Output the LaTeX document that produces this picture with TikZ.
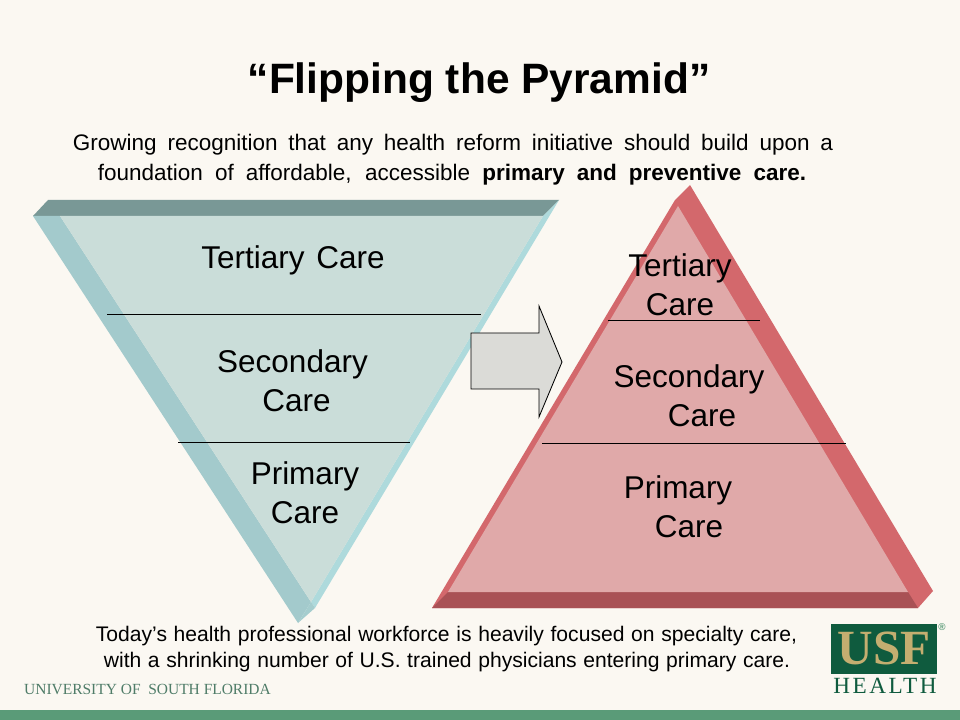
\documentclass[tikz,border=0pt]{standalone}
\usepackage{xcolor}
\usepackage{fontspec}
\setmainfont{Liberation Sans}
\newfontfamily\logoserif{Liberation Serif}
\newfontfamily\healthserif[LetterSpace=11]{Liberation Serif}
\definecolor{paper}{HTML}{FBF8F2}
\definecolor{tealface}{HTML}{CADDD9}
\definecolor{tealtop}{HTML}{799896}
\definecolor{tealleft}{HTML}{A3CACC}
\definecolor{tealright}{HTML}{AEDADC}
\definecolor{redface}{HTML}{E0A9A9}
\definecolor{redright}{HTML}{D3686C}
\definecolor{redbase}{HTML}{A95155}
\definecolor{arrowgrey}{HTML}{DBDBD7}
\definecolor{usfgreen}{HTML}{0F5B3E}
\definecolor{usfgold}{HTML}{C4AE70}
\definecolor{usfbar}{HTML}{5A9B78}
\definecolor{usftext}{HTML}{4F7C68}
\tikzset{
  layerlabel/.style={align=center,inner sep=0pt,font=\fontsize{22.4}{27.7}\selectfont},
  notetext/.style={inner sep=0pt,font=\fontsize{16}{20.6}\selectfont},
  footnotetext/.style={inner sep=0pt,font=\fontsize{15}{18.5}\selectfont},
  divider/.style={draw=black,line width=0.5pt}
}
\begin{document}
\begin{tikzpicture}[x=0.025cm,y=-0.025cm]
    \useasboundingbox (0,0) rectangle (960,720);
    \fill[paper] (0,0) rectangle (960,720);
    \fill[usfbar] (0,710) rectangle (960,720);

    % inverted pyramid
    \fill[tealtop] (48,200) -- (559,200) -- (543,216) -- (33,216) -- cycle;
    \fill[tealleft] (33,216) -- (60,216) -- (311,602) -- (298,623) -- cycle;
    \fill[tealright] (543,216) -- (559,200) -- (315,608) -- (311,602) -- cycle;
    \fill[tealleft!85!tealright] (311,602) -- (315,608) -- (298,623) -- cycle;
    \fill[tealface] (60,216) -- (543,216) -- (311,602) -- cycle;

    % upright pyramid
    \fill[redright] (675,200) -- (690,185) -- (933,591) -- (918,608) -- (432,608) -- cycle;
    \fill[redbase] (448,592) -- (908,592) -- (918,608) -- (432,608) -- cycle;
    \fill[redface] (678,206) -- (908,592) -- (448,592) -- cycle;

    \draw[divider] (107,314) -- (481,314);
    \draw[divider] (178,442) -- (410,442);
    \draw[divider] (608,320) -- (760,320);
    \draw[divider] (542,443) -- (846,443);

    % arrow between the two
    \draw[fill=arrowgrey,line width=0.6pt] (471,333) -- (539,333) -- (539,306) -- (562,362)
      -- (539,417) -- (539,389) -- (471,389) -- cycle;

    \node (title) at (479,83) [inner sep=0pt,font=\fontsize{30.2}{36}\selectfont\bfseries] {“Flipping the Pyramid”};
    \node (introa) at (453,145) [notetext] {\makebox[19cm][s]{Growing recognition that any health reform initiative should build upon a}};
    \node (introb) at (452,175) [notetext] {\makebox[17.7cm][s]{foundation of affordable, accessible \textbf{primary and preventive care.}}};

    \node (tertiaryl) at (293,260) [layerlabel] {Tertiary\hspace{2pt} Care};
    \node (secondaryl) at (292.5,381) [layerlabel] {Secondary\\\hspace*{0.2cm}Care};
    \node (primaryl) at (305,493) [layerlabel] {Primary\\Care};

    \node (tertiaryr) at (680,285) [layerlabel] {Tertiary\\Care};
    \node (secondaryr) at (689,396) [layerlabel] {Secondary\\\hspace*{0.65cm}Care};
    \node (primaryr) at (678,507) [layerlabel] {Primary\\\hspace*{0.55cm}Care};

    \node (notea) at (446.5,636) [footnotetext] {\makebox[17.525cm][s]{Today’s health professional workforce is heavily focused on specialty care,}};
    \node (noteb) at (447,662) [footnotetext] {\makebox[17.15cm][s]{with a shrinking number of U.S. trained physicians entering primary care.}};

    \node (university) at (147.5,689.5) [inner sep=0pt,text=usftext,font=\fontsize{11}{12}\logoserif] {UNIVERSITY OF\ \ SOUTH FLORIDA};

    % logo
    \node (logobox) at (884,649) [fill=usfgreen,minimum width=2.65cm,minimum height=1.25cm,inner sep=0pt] {};
    \node (usf) at (884,648) [inner sep=0pt,text=usfgold,font=\fontsize{35}{36}\logoserif\bfseries] {USF};
    \node (health) at (885,686) [inner sep=0pt,text=usfgreen,font=\fontsize{16.5}{18}\healthserif] {HEALTH};
    \node (regmark) at (942,627) [inner sep=0pt,text=usfbar,font=\fontsize{7}{8}\selectfont\bfseries] {®};
\end{tikzpicture}
\end{document}
